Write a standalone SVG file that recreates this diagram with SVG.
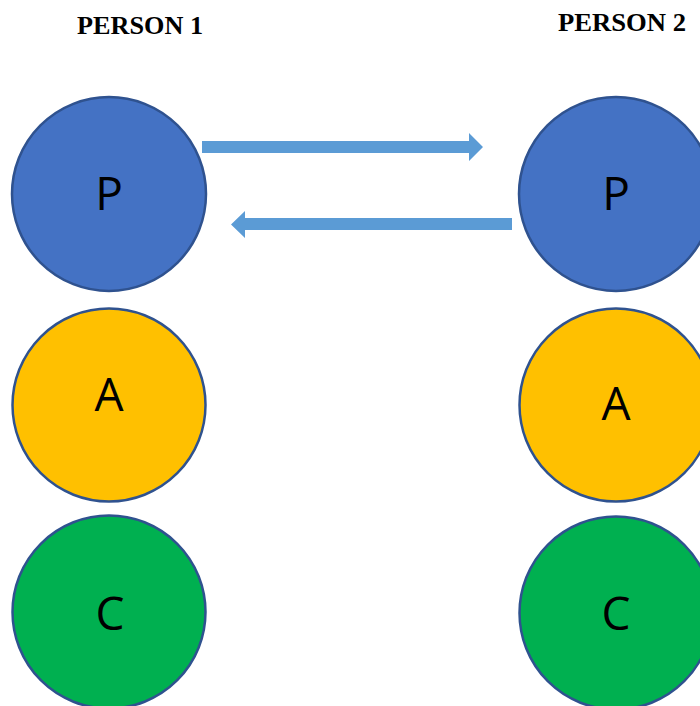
<svg xmlns="http://www.w3.org/2000/svg" width="700" height="706" viewBox="0 0 700 706">
<style>
.title{font-family:"Liberation Serif","Times New Roman",serif;font-weight:bold;font-size:26px;fill:#000}
.lbl{font-family:"Open Sans","Liberation Sans",sans-serif;font-size:46px;fill:#000;text-anchor:middle}
.c{stroke:#2F528F;stroke-width:2.5}
.p{fill:#4472C4}.a{fill:#FFC000}.g{fill:#00B050}
.arr{fill:#5B9BD5}
</style>
<rect width="700" height="706" fill="#fff"/>
<text class="title" x="77" y="34" textLength="126" lengthAdjust="spacingAndGlyphs">PERSON 1</text>
<text class="title" x="558" y="31" textLength="128" lengthAdjust="spacingAndGlyphs">PERSON 2</text>
<g id="p1_P"><circle class="c p" cx="109" cy="194" r="97"/><text class="lbl" x="109" y="210">P</text></g>
<g id="p1_A"><circle class="c a" cx="109" cy="405" r="96.5"/><text class="lbl" x="109" y="411">A</text></g>
<g id="p1_C"><circle class="c g" cx="109" cy="612" r="96.5"/><text class="lbl" x="110" y="630">C</text></g>
<g id="p2_P"><circle class="c p" cx="616" cy="194" r="97"/><text class="lbl" x="616" y="210">P</text></g>
<g id="p2_A"><circle class="c a" cx="616" cy="405" r="96.5"/><text class="lbl" x="616" y="420">A</text></g>
<g id="p2_C"><circle class="c g" cx="616" cy="613" r="96.5"/><text class="lbl" x="616" y="630">C</text></g>
<g id="connectors">
<polygon class="arr" points="202,141 469,141 469,133 483,147 469,161 469,153 202,153"/>
<polygon class="arr" points="512,218 245,218 245,211 231,224.5 245,238 245,230 512,230"/>
</g>
</svg>
